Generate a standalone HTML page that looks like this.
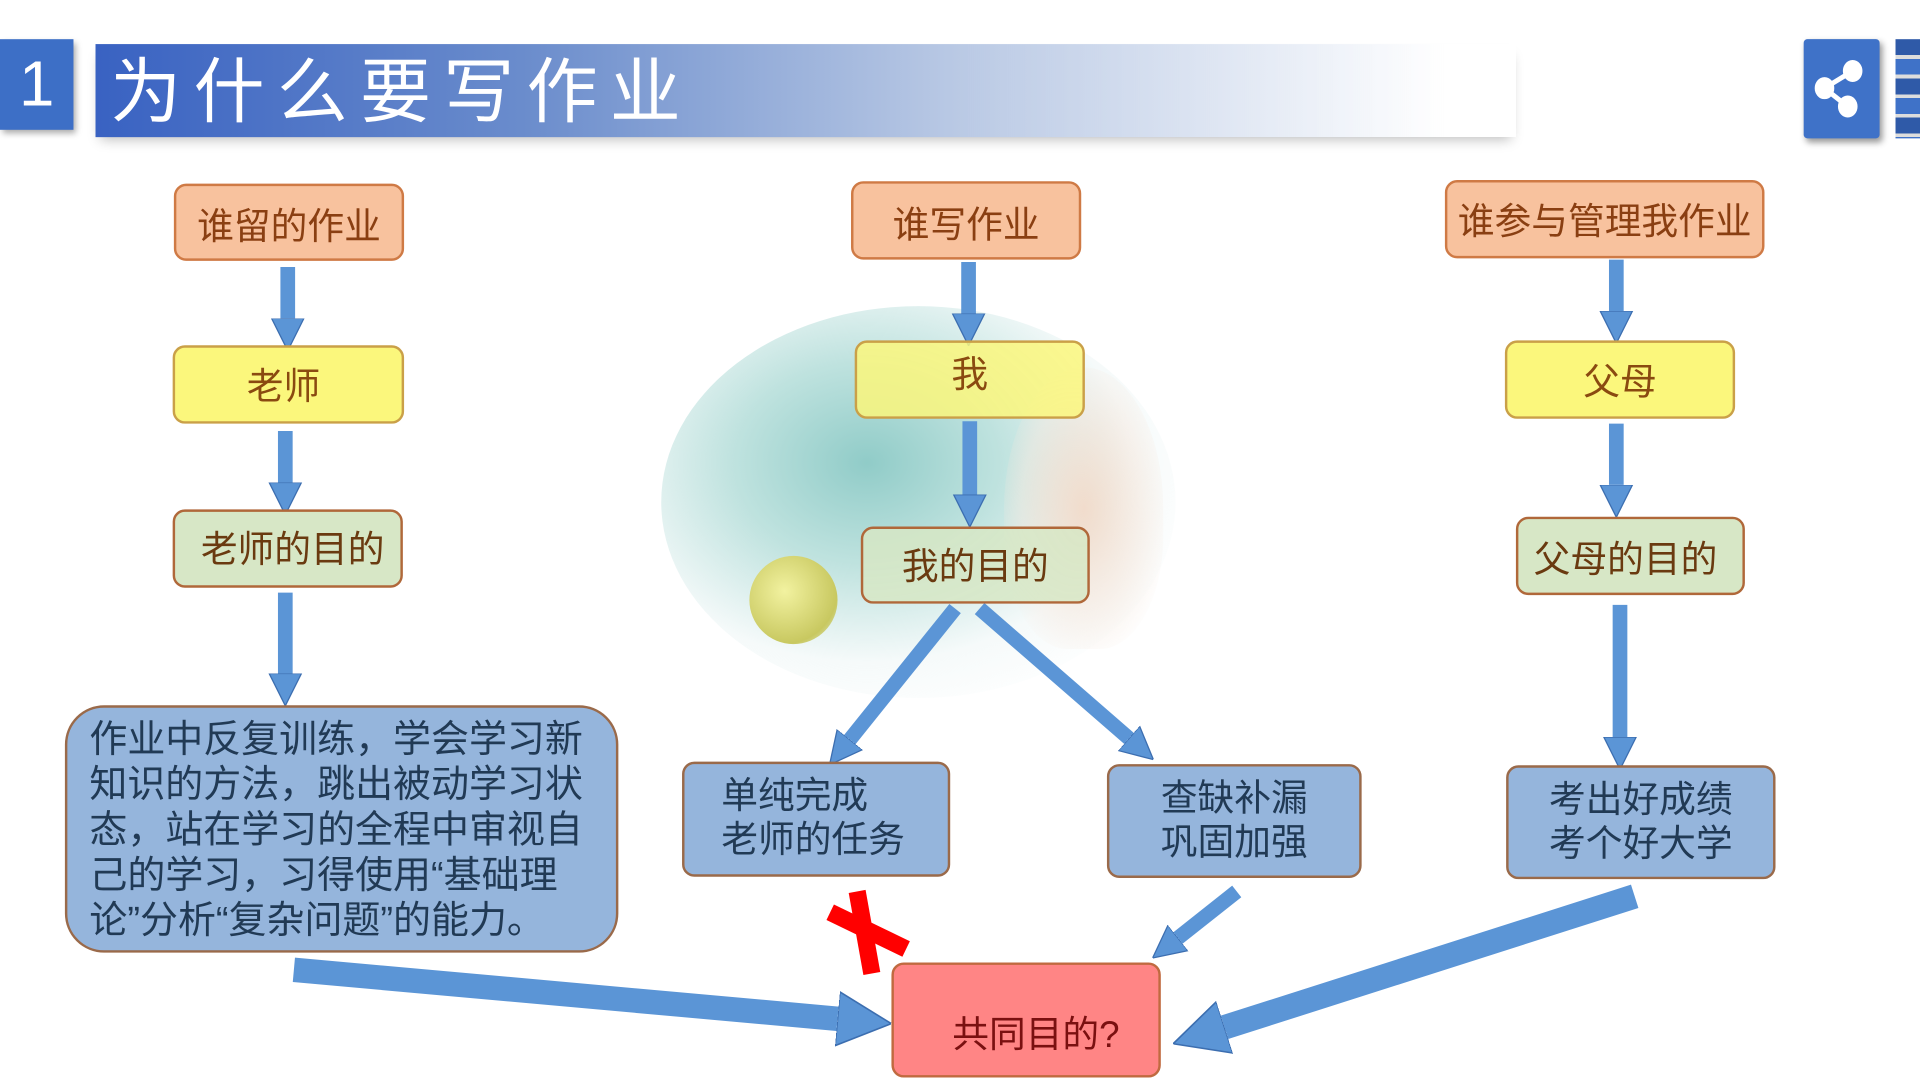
<!DOCTYPE html>
<html><head><meta charset="utf-8"><style>
html,body{margin:0;padding:0;background:#fff;overflow:hidden}
#w{position:absolute;left:0;top:0;width:1568px;height:882px;transform:scale(1.22449);transform-origin:0 0;font-family:"Liberation Sans","Noto Sans CJK SC",sans-serif}
.b{position:absolute;box-sizing:border-box;display:flex;align-items:center;justify-content:center;text-align:center;border-radius:10px;font-size:30px;line-height:36px}
.o{background:#f8c29e;border:2px solid #cf7a45;color:#8a3f12}
.y{background:#fbf77c;border:2px solid #caa048;color:#8a4a10}
.g{background:#d7e7c6;border:2px solid #b0683a;color:#6a3a10}
.u{background:#95b5dc;border:2px solid #9a6a4a;color:#213a55}
</style></head><body><div id="w">
<div style="position:absolute;left:540px;top:250px;width:420px;height:320px;border-radius:50%;opacity:0.75;background:radial-gradient(ellipse at 40% 40%,#6bbab5 0%,#a8d8d3 30%,rgba(230,242,242,0.5) 60%,rgba(255,255,255,0) 80%)"></div>
<div style="position:absolute;left:820px;top:300px;width:130px;height:230px;border-radius:50% 50% 40% 40%;background:radial-gradient(ellipse,#f1dccc 0%,rgba(245,232,222,0.5) 55%,rgba(255,255,255,0) 80%)"></div>
<div style="position:absolute;left:612px;top:454px;width:72px;height:72px;border-radius:50%;background:radial-gradient(circle at 40% 40%,#f2f2a0,#c8c860 70%,rgba(255,255,255,0))"></div>
<div style="position:absolute;left:0;top:32px;width:60px;height:74px;background:#3d6fc6;color:#fff;font-size:52px;line-height:74px;text-align:center;box-shadow:2px 3px 5px #aaa">1</div>
<div style="position:absolute;left:78px;top:36px;width:1160px;height:76px;background:linear-gradient(90deg,#3962c2 0%,#6a8ccc 30%,#b8c8e4 60%,rgba(255,255,255,0) 95%);box-shadow:0 6px 10px -4px #bbb"></div>
<div style="position:absolute;left:90px;top:36px;height:76px;line-height:80px;color:#fff;font-size:58px;letter-spacing:10px">为什么要写作业</div>
<div style="position:absolute;left:1473px;top:32px;width:62px;height:81px;background:#3f72c8;border-radius:3px;box-shadow:2px 3px 5px #999">
<svg width="62" height="81"><g fill="#fff" stroke="#fff" stroke-width="4"><line x1="17" y1="40" x2="40" y2="26"/><line x1="17" y1="40" x2="36" y2="55"/><ellipse cx="40" cy="26" rx="6" ry="7"/><ellipse cx="17" cy="40" rx="6" ry="7"/><ellipse cx="36" cy="55" rx="6" ry="7"/></g></svg></div>
<div style="position:absolute;left:1548px;top:32px;width:20px;height:81px;background:repeating-linear-gradient(180deg,#2f5aa8 0 13px,#ddd 13px 16px,#3f72c8 16px 29px,#ddd 29px 32px)"></div>

<svg style="position:absolute;left:0;top:0" width="1568" height="882">
<defs>
<marker id="m" viewBox="0 0 10 10" refX="0" refY="5" markerWidth="2.2" markerHeight="2.6" orient="auto"><path d="M0,0 L10,5 L0,10 z" fill="#5b95d6" stroke="#3c6eb0" stroke-width="0.4"/></marker>
<marker id="m2" viewBox="0 0 10 10" refX="0" refY="5" markerWidth="2.2" markerHeight="2.6" orient="auto"><path d="M0,0 L10,5 L0,10 z" fill="#5b95d6" stroke="#3c6eb0" stroke-width="0.3"/></marker>
</defs>
<g stroke="#5b95d6" stroke-width="12" marker-end="url(#m)">
<line x1="235" y1="218" x2="235" y2="260"/>
<line x1="233" y1="352" x2="233" y2="394"/>
<line x1="233" y1="484" x2="233" y2="550"/>
<line x1="791" y1="214" x2="791" y2="256"/>
<line x1="792" y1="344" x2="792" y2="404"/>
<line x1="1320" y1="212" x2="1320" y2="254"/>
<line x1="1320" y1="346" x2="1320" y2="396"/>
<line x1="1323" y1="494" x2="1323" y2="602"/>
<line x1="780" y1="497" x2="694" y2="604"/>
<line x1="800" y1="497" x2="922" y2="603"/>
<line x1="1010" y1="728" x2="962" y2="766"/>
</g>
<g stroke="#5b95d6" stroke-width="20" marker-end="url(#m2)">
<line x1="1335" y1="732" x2="1000" y2="839"/>
<line x1="240" y1="792" x2="684" y2="832"/>
</g>
<g stroke="#f00" stroke-width="14" stroke-linecap="butt"><line x1="700" y1="728" x2="712" y2="795"/><line x1="678" y1="745" x2="740" y2="775"/></g>
</svg>

<div class="b o" style="left:142px;top:150px;width:188px;height:63px;padding-top:8px">谁留的作业</div>
<div class="b o" style="left:695px;top:148px;width:188px;height:64px;padding-top:10px">谁写作业</div>
<div class="b o" style="left:1180px;top:147px;width:261px;height:64px;padding-top:6px;white-space:nowrap">谁参与管理我作业</div>
<div class="b y" style="left:141px;top:282px;width:189px;height:64px;padding-top:6px;padding-right:8px">老师</div>
<div class="b y" style="left:698px;top:278px;width:188px;height:64px;padding-bottom:6px;background:rgba(251,247,124,0.85)">我</div>
<div class="b y" style="left:1229px;top:278px;width:188px;height:64px;padding-top:6px">父母</div>
<div class="b g" style="left:141px;top:416px;width:188px;height:64px;padding-top:4px;padding-left:8px">老师的目的</div>
<div class="b g" style="left:703px;top:430px;width:187px;height:63px;padding-top:4px;background:rgba(215,231,198,0.85)">我的目的</div>
<div class="b g" style="left:1238px;top:422px;width:187px;height:64px;padding-top:8px;padding-right:8px">父母的目的</div>
<div class="b u" style="left:53px;top:576px;width:452px;height:202px;border-radius:32px;font-size:31px;line-height:37px;text-align:left;justify-content:flex-start;padding-left:18px">作业中反复训练，学会学习新<br>知识的方法，跳出被动学习状<br>态，站在学习的全程中审视自<br>己的学习，习得使用“基础理<br>论”分析“复杂问题”的能力。</div>
<div class="b u" style="left:557px;top:622px;width:219px;height:94px;text-align:left;justify-content:flex-start;padding-left:30px">单纯完成<br>老师的任务</div>
<div class="b u" style="left:904px;top:624px;width:208px;height:93px">查缺补漏<br>巩固加强</div>
<div class="b u" style="left:1230px;top:625px;width:220px;height:93px">考出好成绩<br>考个好大学</div>
<div class="b" style="left:728px;top:786px;width:220px;height:94px;background:#ff8585;border:2px solid #c06a40;color:#7a1010;padding-top:26px;padding-left:16px">共同目的?</div>
</div></body></html>
